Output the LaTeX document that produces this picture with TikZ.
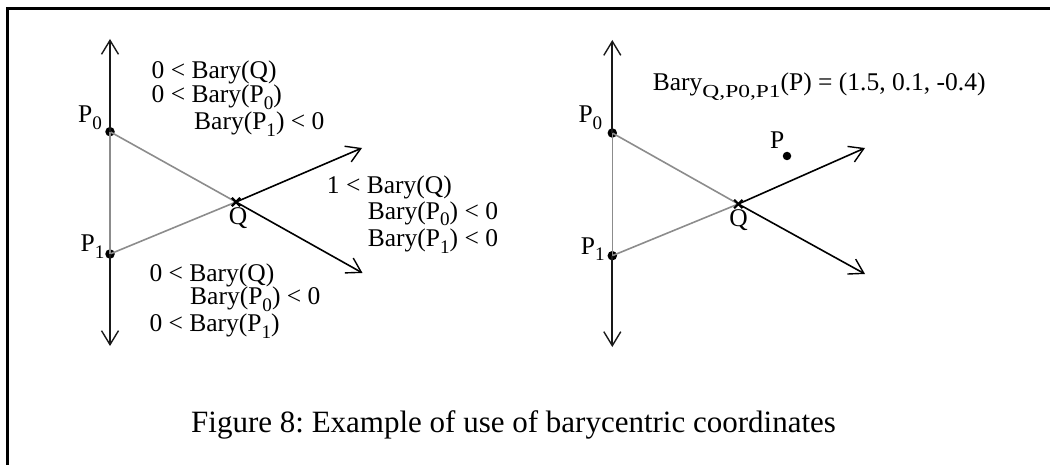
\documentclass[tikz,border=0pt]{standalone}
\usepackage{fontspec}
\setmainfont{Liberation Serif}
\usetikzlibrary{arrows.meta}
\frenchspacing
\newcommand\lsub[1]{\raisebox{-0.25em}{\scalebox{0.75}{#1}}}
\newcommand\wsub[1]{\raisebox{-0.25em}{\scalebox{0.92}[0.72]{#1}}}
\begin{document}
\begin{tikzpicture}[x=1pt,y=-1pt,
  lbl/.style={inner sep=0pt, anchor=base west, font=\fontsize{25.5}{30}\selectfont},
  captiontext/.style={inner sep=0pt, anchor=base west, font=\fontsize{31}{36}\selectfont},
  dot/.style={circle, fill=black, inner sep=0pt, minimum size=9.5pt},
  pdot/.style={circle, fill=black, inner sep=0pt, minimum size=8.5pt},
  qmark/.style={inner sep=0pt, minimum size=8pt},
  axis/.style={line width=2pt, black!90, -{Straight Barb[length=14pt, width=17pt, line width=1.4pt]}},
  ray/.style={line width=1.6pt, black, -{Straight Barb[length=14pt, width=17pt, line width=1.4pt]}},
  tri/.style={line width=1.6pt, black!45},
  frameline/.style={line width=3pt, black},
  cross/.style={line width=2.2pt}
]
\useasboundingbox (0,0) rectangle (1050,465);
% frame
\coordinate (fa) at (7.7,470);
\coordinate (fb) at (7.7,9);
\coordinate (fc) at (1055,9);
\draw[frameline] (fa) -- (fb) -- (fc);

% ---------- left diagram ----------
\node[dot] (lp0) at (110,131.7) {};
\node[dot] (lp1) at (110,254) {};
\node[qmark] (lq) at (236,202) {};
\coordinate (ltop) at (110,39);
\coordinate (lbot) at (110,346);
\coordinate (lur) at (362,148);
\coordinate (llr) at (362.5,273);
\draw[tri] (lp0.center) -- (lp1.center);
\draw[tri] (lp0.center) -- (lq.center);
\draw[tri] (lp1.center) -- (lq.center);
\draw[axis] (lp0.center) -- (ltop);
\draw[axis] (lp1.center) -- (lbot);
\draw[ray] (lq.center) -- (lur);
\draw[ray] (lq.center) -- (llr);
\draw[cross] (lq.north west) -- (lq.south east) (lq.north east) -- (lq.south west);

\node[lbl] (lp0t) at (78,123) {P\lsub{0}};
\node[lbl] (lp1t) at (80.5,252) {P\lsub{1}};
\node[lbl, anchor=base] (lqt) at (238,225) {Q};
\node[lbl] (la1) at (151.5,79) {0 < Bary(Q)};
\node[lbl] (la2) at (151.5,103) {0 < Bary(P\lsub{0})};
\node[lbl] (la3) at (194,130) {Bary(P\lsub{1}) < 0};
\node[lbl] (lb1) at (326.7,193.3) {1 < Bary(Q)};
\node[lbl] (lb2) at (367.7,219.3) {Bary(P\lsub{0}) < 0};
\node[lbl] (lb3) at (367.7,246.7) {Bary(P\lsub{1}) < 0};
\node[lbl] (lc1) at (149.3,281.7) {0 < Bary(Q)};
\node[lbl] (lc2) at (190,305) {Bary(P\lsub{0}) < 0};
\node[lbl] (lc3) at (149.3,331.7) {0 < Bary(P\lsub{1})};

% ---------- right diagram ----------
\node[dot] (rp0) at (612.3,133) {};
\node[dot] (rp1) at (612.3,255.7) {};
\node[qmark] (rq) at (738.3,204) {};
\node[pdot] (rp) at (787,156) {};
\coordinate (rtop) at (612.3,40);
\coordinate (rbot) at (612.3,347);
\coordinate (rur) at (865,148);
\coordinate (rlr) at (865,274);
\draw[tri] (rp0.center) -- (rp1.center);
\draw[tri] (rp0.center) -- (rq.center);
\draw[tri] (rp1.center) -- (rq.center);
\draw[axis] (rp0.center) -- (rtop);
\draw[axis] (rp1.center) -- (rbot);
\draw[ray] (rq.center) -- (rur);
\draw[ray] (rq.center) -- (rlr);
\draw[cross] (rq.north west) -- (rq.south east) (rq.north east) -- (rq.south west);

\node[lbl] (rp0t) at (578.3,122.7) {P\lsub{0}};
\node[lbl] (rp1t) at (580.7,254.3) {P\lsub{1}};
\node[lbl, anchor=base] (rqt) at (738.5,227) {Q};
\node[lbl] (rpt) at (770,148.3) {P};
\node[lbl] (rbary) at (652.7,90.7) {Bary\wsub{Q,P0,P1}(P) = (1.5, 0.1, -0.4)};

% caption
\node[captiontext] (caption) at (191,432) {Figure 8: Example of use of barycentric coordinates};
\end{tikzpicture}
\end{document}
